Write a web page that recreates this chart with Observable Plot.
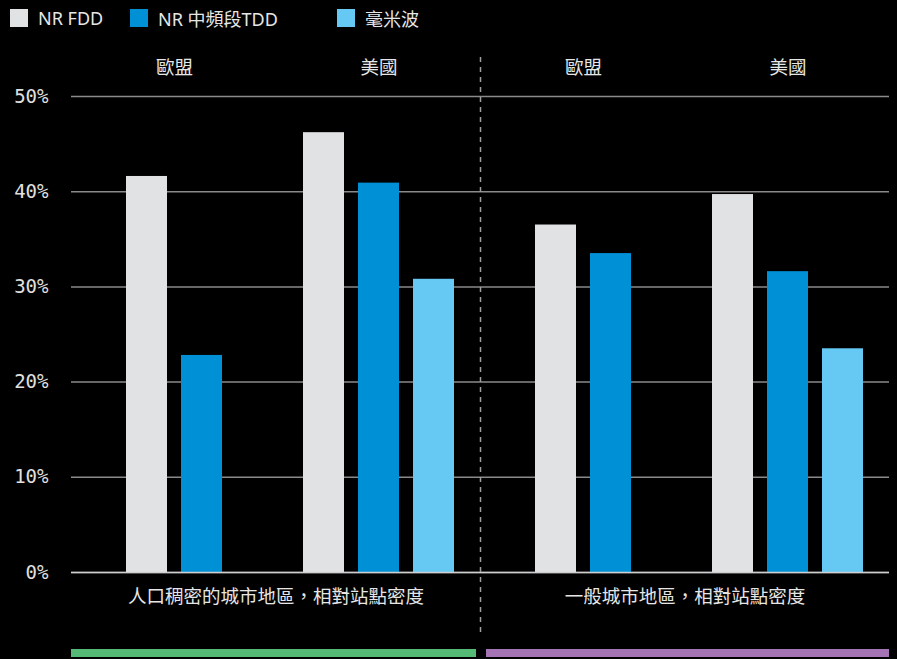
<!DOCTYPE html>
<html>
<head>
<meta charset="utf-8">
<script src="https://cdn.jsdelivr.net/npm/d3@7"></script>
<script src="https://cdn.jsdelivr.net/npm/@observablehq/plot@0.6"></script>
<style>
  html, body { margin: 0; padding: 0; background: #000; }
  #legend { position: relative; height: 40px; width: 897px; font-family: "Noto Sans", "Noto Sans CJK TC", sans-serif; font-size: 18px; color: #e6e6e6; }
  .item { position: absolute; top: 9px; display: flex; align-items: center; height: 18px; white-space: nowrap; }
  .sw { width: 18px; height: 18px; margin-right: 10px; }
  #chart svg { display: block; }
</style>
</head>
<body>
<div id="legend"></div>
<div id="chart"></div>
<script>
// ---- data ----
const regions = ["dense", "general"];
const regionLabels = ["人口稠密的城市地區，相對站點密度", "一般城市地區，相對站點密度"];
const countries = ["歐盟", "美國"];
const seriesNames = ["NR FDD", "NR 中頻段TDD", "毫米波"];
const seriesColors = ["#e1e2e4", "#0090d6", "#66c9f4"];
// order: dense-EU, dense-US, general-EU, general-US
const fddValues = [41.6, 46.2, 36.5, 39.7];
const tddValues = [22.8, 40.9, 33.5, 31.6];
const mmwValues = [null, 30.8, null, 23.5];
const yTicks = [0, 10, 20, 30, 40, 50];
const bandColors = ["#55ba76", "#a574b4"];

// ---- build rows ----
const keys = [];
for (const r of regions) for (const c of countries) keys.push({region: r, country: c});
function rows(values) {
  return keys.map((k, i) => ({...k, value: values[i]})).filter(d => d.value != null);
}
const fdd = rows(fddValues), tdd = rows(tddValues), mmw = rows(mmwValues);

// ---- legend ----
const legendX = [10, 130, 337];
const legend = document.getElementById("legend");
seriesNames.forEach((name, i) => {
  const it = document.createElement("div");
  it.className = "item";
  it.style.left = legendX[i] + "px";
  it.innerHTML = `<span class="sw" style="background:${seriesColors[i]}"></span><span>${name}</span>`;
  legend.appendChild(it);
});

// ---- chart ----
const plot = Plot.plot({
  width: 897,
  height: 619,
  marginLeft: 71,
  marginRight: 8,
  marginTop: 56,
  marginBottom: 87,
  style: {background: "#000", color: "#e6e6e6", fontFamily: "'Noto Sans CJK TC', 'Noto Sans', sans-serif", fontSize: "18px"},
  fx: {domain: regions, padding: 0, label: null},
  x: {domain: countries, paddingInner: 0.146, paddingOuter: 0.222, align: 0.684, axis: null},
  y: {domain: [0, 50], axis: null},
  marks: [
    Plot.gridY(yTicks, {stroke: "#8a8a8a", strokeOpacity: 1, strokeWidth: 1.5}),
    Plot.axisY(yTicks, {label: null, tickSize: 0, tickPadding: 23, tickFormat: d => d + "%", fontFamily: "'DejaVu Sans Mono', monospace", fontSize: 19, fill: "#e0e0e0"}),
    Plot.axisFx({anchor: "bottom", tickSize: 0, tickPadding: 17, fontSize: 18.5, label: null, fill: "#e6e6e6",
      tickFormat: d => regionLabels[regions.indexOf(d)]}),
    Plot.barY(fdd, {fx: "region", x: "country", y: "value", fill: seriesColors[0], insetLeft: 0, insetRight: 110}),
    Plot.barY(tdd, {fx: "region", x: "country", y: "value", fill: seriesColors[1], insetLeft: 55, insetRight: 55}),
    Plot.barY(mmw, {fx: "region", x: "country", y: "value", fill: seriesColors[2], insetLeft: 110, insetRight: 0}),
    Plot.ruleY([0], {stroke: "#cfcfcf", strokeWidth: 1.5}),
    Plot.text(keys.filter(d => d.country === "歐盟"), {fx: "region", x: "country", text: "country", frameAnchor: "top", dy: -36, dx: -27.5, fontSize: 18.5, fill: "#e6e6e6"}),
    Plot.text(keys.filter(d => d.country === "美國"), {fx: "region", x: "country", text: "country", frameAnchor: "top", dy: -36, fontSize: 18.5, fill: "#e6e6e6"})
  ]
});
document.getElementById("chart").appendChild(plot);

// ---- decorations placed with the fx scale ----
const fx = plot.scale("fx");
const svg = d3.select(plot);
const xg = fx.apply("general");
svg.append("line")
  .attr("x1", xg + 0.5).attr("x2", xg + 0.5)
  .attr("y1", 17).attr("y2", 593)
  .attr("stroke", "#a0a0a0").attr("stroke-width", 1.5).attr("stroke-dasharray", "5,5");
regions.forEach((r, i) => {
  const x0 = fx.apply(r);
  const left = i === 0 ? 0 : 6;
  const right = i === 0 ? 4 : 0;
  svg.append("rect")
    .attr("x", x0 + left).attr("y", 609)
    .attr("width", fx.bandwidth - left - right).attr("height", 8)
    .attr("fill", bandColors[i]);
});
</script>
</body>
</html>
